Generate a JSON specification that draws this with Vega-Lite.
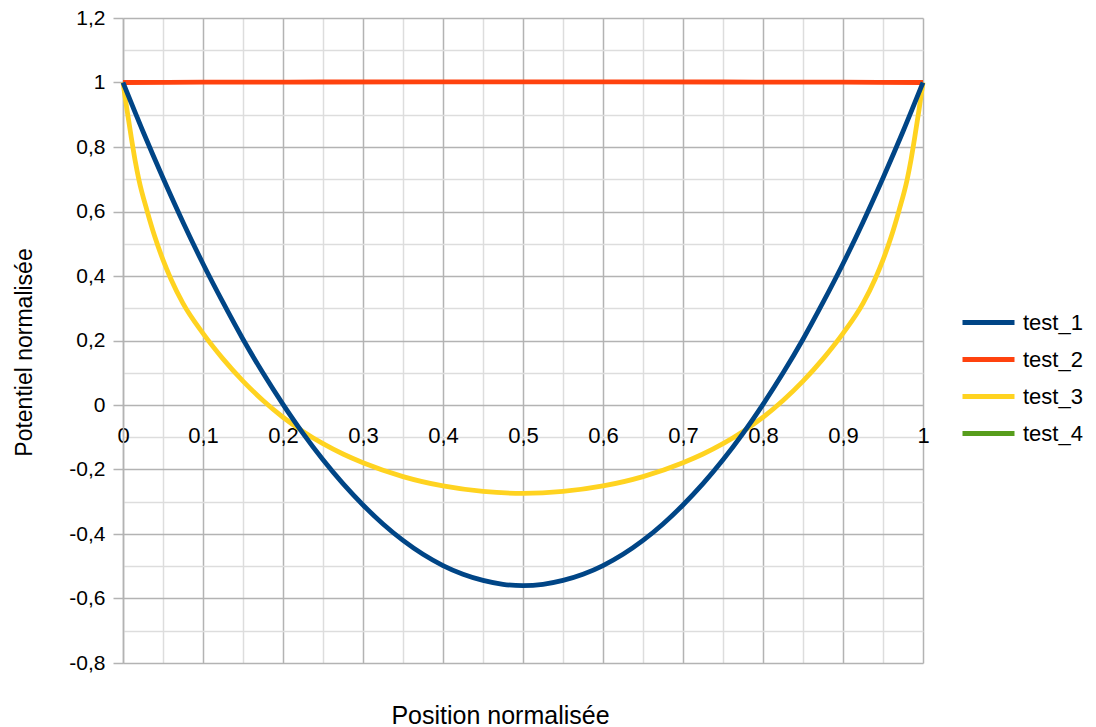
{
  "$schema": "https://vega.github.io/schema/vega-lite/v6.json",
  "width": 800,
  "height": 645,
  "autosize": {"type": "none"},
  "padding": {"left": 123, "top": 18, "right": 173, "bottom": 64},
  "background": "white",
  "config": {"view": {"stroke": null}, "font": "Liberation Sans"},
  "data": {"values": [
    {"series": "test_2", "x": 0, "y": 1},
    {"series": "test_2", "x": 0.1, "y": 1.001},
    {"series": "test_2", "x": 0.25, "y": 1.0015},
    {"series": "test_2", "x": 0.5, "y": 1.002},
    {"series": "test_2", "x": 0.75, "y": 1.0015},
    {"series": "test_2", "x": 0.9, "y": 1.001},
    {"series": "test_2", "x": 1, "y": 1},
    {"series": "test_3", "x": 0, "y": 1},
    {"series": "test_3", "x": 0.005, "y": 0.915},
    {"series": "test_3", "x": 0.01, "y": 0.835},
    {"series": "test_3", "x": 0.015, "y": 0.76},
    {"series": "test_3", "x": 0.02, "y": 0.697},
    {"series": "test_3", "x": 0.03, "y": 0.603},
    {"series": "test_3", "x": 0.04, "y": 0.52},
    {"series": "test_3", "x": 0.05, "y": 0.45},
    {"series": "test_3", "x": 0.06, "y": 0.39},
    {"series": "test_3", "x": 0.075, "y": 0.315},
    {"series": "test_3", "x": 0.1, "y": 0.222},
    {"series": "test_3", "x": 0.125, "y": 0.143},
    {"series": "test_3", "x": 0.15, "y": 0.074},
    {"series": "test_3", "x": 0.175, "y": 0.014},
    {"series": "test_3", "x": 0.2, "y": -0.038},
    {"series": "test_3", "x": 0.225, "y": -0.082},
    {"series": "test_3", "x": 0.25, "y": -0.12},
    {"series": "test_3", "x": 0.275, "y": -0.152},
    {"series": "test_3", "x": 0.3, "y": -0.179},
    {"series": "test_3", "x": 0.35, "y": -0.222},
    {"series": "test_3", "x": 0.4, "y": -0.251},
    {"series": "test_3", "x": 0.45, "y": -0.268},
    {"series": "test_3", "x": 0.5, "y": -0.274},
    {"series": "test_3", "x": 0.55, "y": -0.268},
    {"series": "test_3", "x": 0.6, "y": -0.251},
    {"series": "test_3", "x": 0.65, "y": -0.222},
    {"series": "test_3", "x": 0.7, "y": -0.179},
    {"series": "test_3", "x": 0.725, "y": -0.152},
    {"series": "test_3", "x": 0.75, "y": -0.12},
    {"series": "test_3", "x": 0.775, "y": -0.082},
    {"series": "test_3", "x": 0.8, "y": -0.038},
    {"series": "test_3", "x": 0.825, "y": 0.014},
    {"series": "test_3", "x": 0.85, "y": 0.074},
    {"series": "test_3", "x": 0.875, "y": 0.143},
    {"series": "test_3", "x": 0.9, "y": 0.222},
    {"series": "test_3", "x": 0.925, "y": 0.315},
    {"series": "test_3", "x": 0.94, "y": 0.39},
    {"series": "test_3", "x": 0.95, "y": 0.45},
    {"series": "test_3", "x": 0.96, "y": 0.52},
    {"series": "test_3", "x": 0.97, "y": 0.603},
    {"series": "test_3", "x": 0.98, "y": 0.697},
    {"series": "test_3", "x": 0.985, "y": 0.76},
    {"series": "test_3", "x": 0.99, "y": 0.835},
    {"series": "test_3", "x": 0.995, "y": 0.915},
    {"series": "test_3", "x": 1, "y": 1},
    {"series": "test_1", "x": 0, "y": 1},
    {"series": "test_1", "x": 0.025, "y": 0.848},
    {"series": "test_1", "x": 0.05, "y": 0.704},
    {"series": "test_1", "x": 0.075, "y": 0.567},
    {"series": "test_1", "x": 0.1, "y": 0.438},
    {"series": "test_1", "x": 0.125, "y": 0.318},
    {"series": "test_1", "x": 0.15, "y": 0.204},
    {"series": "test_1", "x": 0.175, "y": 0.099},
    {"series": "test_1", "x": 0.2, "y": 0.002},
    {"series": "test_1", "x": 0.225, "y": -0.088},
    {"series": "test_1", "x": 0.25, "y": -0.17},
    {"series": "test_1", "x": 0.275, "y": -0.244},
    {"series": "test_1", "x": 0.3, "y": -0.31},
    {"series": "test_1", "x": 0.325, "y": -0.369},
    {"series": "test_1", "x": 0.35, "y": -0.42},
    {"series": "test_1", "x": 0.375, "y": -0.463},
    {"series": "test_1", "x": 0.4, "y": -0.498},
    {"series": "test_1", "x": 0.425, "y": -0.525},
    {"series": "test_1", "x": 0.45, "y": -0.544},
    {"series": "test_1", "x": 0.475, "y": -0.556},
    {"series": "test_1", "x": 0.5, "y": -0.56},
    {"series": "test_1", "x": 0.525, "y": -0.556},
    {"series": "test_1", "x": 0.55, "y": -0.544},
    {"series": "test_1", "x": 0.575, "y": -0.525},
    {"series": "test_1", "x": 0.6, "y": -0.498},
    {"series": "test_1", "x": 0.625, "y": -0.463},
    {"series": "test_1", "x": 0.65, "y": -0.42},
    {"series": "test_1", "x": 0.675, "y": -0.369},
    {"series": "test_1", "x": 0.7, "y": -0.31},
    {"series": "test_1", "x": 0.725, "y": -0.244},
    {"series": "test_1", "x": 0.75, "y": -0.17},
    {"series": "test_1", "x": 0.775, "y": -0.088},
    {"series": "test_1", "x": 0.8, "y": 0.002},
    {"series": "test_1", "x": 0.825, "y": 0.099},
    {"series": "test_1", "x": 0.85, "y": 0.204},
    {"series": "test_1", "x": 0.875, "y": 0.318},
    {"series": "test_1", "x": 0.9, "y": 0.438},
    {"series": "test_1", "x": 0.925, "y": 0.567},
    {"series": "test_1", "x": 0.95, "y": 0.704},
    {"series": "test_1", "x": 0.975, "y": 0.848},
    {"series": "test_1", "x": 1, "y": 1}
  ]},
  "layer": [
    {
      "mark": {"type": "point", "opacity": 0},
      "encoding": {
        "x": {"field": "x", "type": "quantitative", "scale": {"domain": [0, 1], "nice": false, "zero": false},
          "axis": {"orient": "top", "values": [0.05, 0.15, 0.25, 0.35, 0.45, 0.55, 0.65, 0.75, 0.85, 0.95], "grid": true, "gridColor": "#dddddd", "gridWidth": 1.5, "labels": false, "ticks": false, "domain": false, "title": null}},
        "y": {"field": "y", "type": "quantitative", "scale": {"domain": [-0.8, 1.2], "nice": false, "zero": false},
          "axis": {"orient": "right", "values": [-0.7, -0.5, -0.3, -0.1, 0.1, 0.3, 0.5, 0.7, 0.9, 1.1], "grid": true, "gridColor": "#dddddd", "gridWidth": 1.5, "labels": false, "ticks": false, "domain": false, "title": null}}
      }
    },
    {
      "mark": {"type": "line", "strokeWidth": 4.8, "interpolate": "monotone"},
      "encoding": {
        "x": {"field": "x", "type": "quantitative", "scale": {"domain": [0, 1], "nice": false, "zero": false},
          "axis": {"orient": "bottom", "offset": -258, "values": [0, 0.1, 0.2, 0.3, 0.4, 0.5, 0.6, 0.7, 0.8, 0.9, 1], "grid": true, "gridColor": "#b3b3b3", "gridWidth": 1.5, "domain": false, "ticks": false, "labelFontSize": 22, "labelColor": "black", "labelPadding": 20, "labelFlush": false, "labelOverlap": false, "labelExpr": "replace(toString(datum.value), '.', ',')", "title": "Position normalisée", "titleFontSize": 25, "titleFontWeight": "normal", "titleColor": "black", "titleX": 377, "titleY": 318, "titleAlign": "center", "titleBaseline": "alphabetic"}},
        "y": {"field": "y", "type": "quantitative", "scale": {"domain": [-0.8, 1.2], "nice": false, "zero": false},
          "axis": {"orient": "left", "values": [-0.8, -0.6, -0.4, -0.2, 0, 0.2, 0.4, 0.6, 0.8, 1, 1.2], "grid": true, "gridColor": "#b3b3b3", "gridWidth": 1.5, "domain": true, "domainColor": "#b3b3b3", "domainWidth": 1.5, "ticks": true, "tickColor": "#b3b3b3", "tickSize": 10, "tickWidth": 1.5, "labelFontSize": 21, "labelColor": "black", "labelPadding": 8, "labelExpr": "replace(toString(datum.value), '.', ',')", "title": "Potentiel normalisée", "titleFontSize": 23, "titleFontWeight": "normal", "titleColor": "black", "titleAngle": -90, "titleX": -92, "titleY": 334, "titleAlign": "center", "titleBaseline": "alphabetic"}},
        "color": {"field": "series", "type": "nominal",
          "scale": {"domain": ["test_1", "test_2", "test_3", "test_4"], "range": ["#004586", "#ff420e", "#ffd320", "#579d1c"]},
          "legend": {"orient": "none", "legendX": 837, "legendY": 286, "title": null, "symbolType": "stroke", "symbolSize": 2704, "symbolStrokeWidth": 4.8, "labelFontSize": 22, "labelColor": "black", "labelOffset": 6, "clipHeight": 37, "rowPadding": 0, "padding": 0}}
      }
    }
  ],
  "resolve": {"axis": {"x": "independent", "y": "independent"}}
}
